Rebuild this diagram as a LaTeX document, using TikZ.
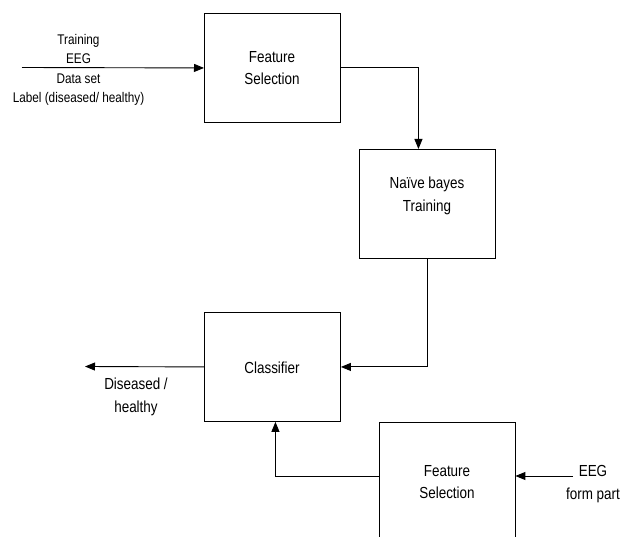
\documentclass[tikz,border=0pt]{standalone}
\usepackage{fontspec}
\setmainfont[FakeStretch=0.84]{Liberation Sans}
\usetikzlibrary{arrows.meta}
\begin{document}
\begin{tikzpicture}[x=1pt,y=-1pt,
  box/.style={draw, line width=0.9pt, minimum width=136pt, minimum height=109pt, inner sep=0pt, anchor=north west},
  openbox/.style={minimum width=136pt, minimum height=115pt, inner sep=0pt, anchor=north west},
  txt/.style={align=center, inner sep=0pt, font=\fontsize{16}{22.5}\selectfont},
  small/.style={align=center, inner sep=0pt, font=\fontsize{14}{19.3}\selectfont},
  conn/.style={line width=0.9pt},
  arr/.style={conn, -{Triangle[length=10pt,width=8pt]}}]
\useasboundingbox (0,0) rectangle (622,537);
% boxes
\node[box] (fs1) at (204,13) {};
\node[box] (nb) at (359,149) {};
\node[box] (cl) at (204,312) {};
\node[openbox] (fs2) at (379,422) {};
\draw[line width=0.9pt] (fs2.south west) -- (fs2.north west) -- (fs2.north east) -- (fs2.south east);
% texts
\node[txt] (t1) at (272,68) {Feature\\Selection};
\node[txt] (t2) at (427,196) {Naïve bayes\\Training};
\node[txt] (t3) at (272,368) {Classifier};
\node[txt] (t4) at (447,482) {Feature\\Selection};
\node[small] (in1) at (78.5,70) {Training\\EEG\\Data set\\Label (diseased/ healthy)};
\node[txt] (out) at (136,397) {Diseased /\\healthy};
\node[txt] (in2) at (593,484) {EEG\\form part};
% connectors
\coordinate (s1) at (22,67.5);
\coordinate (o1) at (85,366.5);
\coordinate (s2) at (573,476);
\draw[arr] (s1) -- (fs1.west);
\draw[arr] (fs1.east) -| ([xshift=-9pt]nb.north);
\draw[arr] (nb.south) |- (cl.east);
\draw[arr] (cl.west) -- (o1);
\draw[arr] (s2) -- (fs2.east |- s2);
\draw[arr] (fs2.west |- s2) -| ([xshift=3pt]cl.south);
\end{tikzpicture}
\end{document}
